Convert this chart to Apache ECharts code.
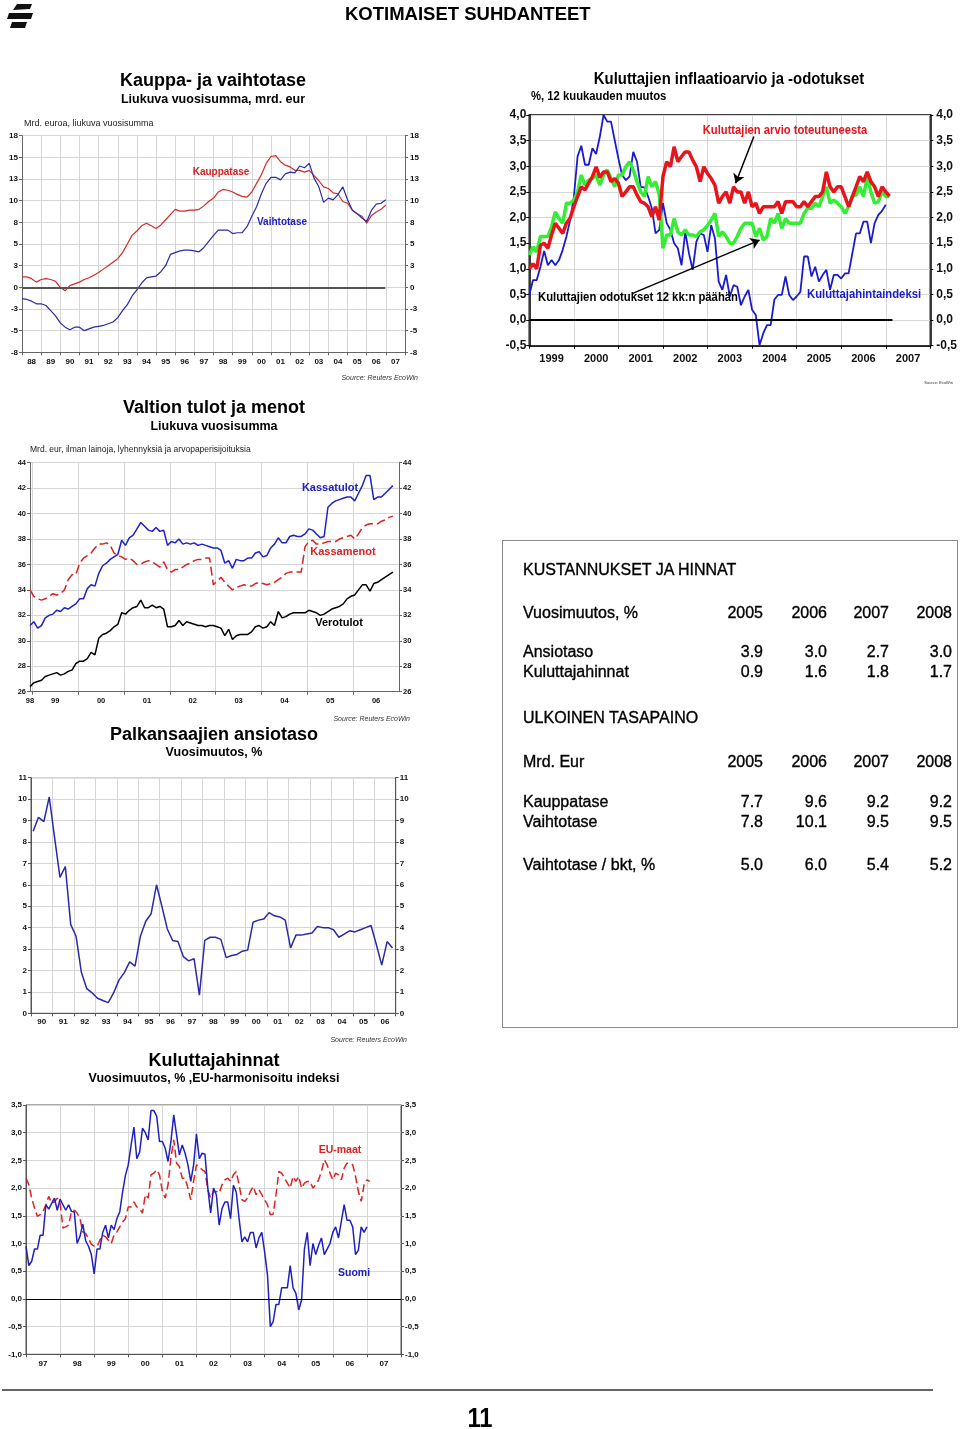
<!DOCTYPE html>
<html><head><meta charset="utf-8">
<script src="https://cdn.jsdelivr.net/npm/echarts@6/dist/echarts.min.js"></script>
<style>
html,body{margin:0;padding:0;background:#fff;}
#page{position:relative;width:960px;height:1429px;overflow:hidden;font-family:Arial,"Liberation Sans",sans-serif;color:#000;}
#chart{position:absolute;left:0;top:0;width:960px;height:1429px;}
.t{position:absolute;white-space:nowrap;line-height:1;}
.tb{-webkit-text-stroke:0.35px #000;}
</style></head><body>
<div id="page">
<div id="chart"></div>
<svg style="position:absolute;left:3px;top:2px" width="32" height="28">
<polygon points="14,2 29,2 27,7 10,8" fill="#111"/>
<polygon points="6,11 30,11 28,17 4,17" fill="#111"/>
<polygon points="9,20 24,20 22,26 7,26" fill="#111"/>
</svg>
<div class="t" style="left:345px;top:5px;font-size:18.5px;font-weight:bold;">KOTIMAISET SUHDANTEET</div>
<div id="tbl" style="position:absolute;left:502px;top:540px;width:454px;height:486px;border:1px solid #8a8a8a;"></div>
<div style="position:absolute;left:2px;top:1389px;width:931px;height:2px;background:#666;"></div>
<div class="t" style="left:480px;top:1404px;font-size:28px;font-weight:bold;transform:translateX(-50%) scaleX(0.85);">11</div>
</div>
<script>
// ---------- DATA ----------
// Kauppa- ja vaihtotase, quarterly from 1988.0, mrd. eur
const tradeStart = 1988, tradeStep = 0.25;
const kauppatase = [1.2,1.2,1.0,0.6, 0.9,1.0,0.9,0.7, 0.0,-0.4,0.2,0.4, 0.6,0.9,1.1,1.4, 1.7,2.1,2.5,2.9,
  3.3,4.0,5.0,6.0, 6.5,7.1,7.4,7.1, 6.8,7.2,7.8,8.4, 9.0,8.8,8.8,8.9, 8.9,9.0,9.4,9.9,
  10.3,11.0,11.3,11.2, 11.0,10.7,10.5,10.4, 11.0,12.0,13.0,14.3, 15.1,15.2,14.5,14.1, 13.9,13.5,13.5,13.3,
  13.5,12.9,12.3,11.6, 11.4,10.9,10.8,9.9, 9.7,8.9,8.5,8.2, 7.4,8.3,8.7,9.0, 9.5];
const vaihtotase = [-1.3,-1.4,-1.6,-1.9, -1.9,-2.1,-2.7,-3.3, -4.1,-4.6,-4.9,-4.6, -4.6,-5.0,-4.8,-4.6, -4.5,-4.4,-4.2,-4.0,
  -3.5,-2.7,-2.0,-1.0, -0.3,0.5,1.1,1.2, 1.3,1.8,2.5,3.8, 4.0,4.2,4.3,4.3, 4.2,4.1,4.6,5.3,
  6.0,6.6,6.6,6.6, 6.2,6.3,6.3,7.0, 8.2,9.3,10.8,12.0, 12.7,12.7,12.4,13.1, 13.3,13.2,14.0,13.8,
  14.3,12.6,11.6,9.8, 10.3,10.1,10.7,11.6, 10.1,8.9,8.5,8.0, 7.6,8.9,9.6,9.7, 10.1];

// Kuluttajien inflaatioarvio ja -odotukset, monthly from 1999.0, %
const inflStart = 1999;
const arvio = [1.0,1.1,1.0,1.46,1.5,1.4,1.66,1.89,1.79,1.69,1.89,1.99,
  2.21,2.41,2.6,2.54,2.67,2.8,2.99,2.78,2.89,2.89,2.7,2.76,
  2.67,2.41,2.5,2.6,2.6,2.44,2.31,2.28,2.21,2.02,2.21,1.95,
  2.8,3.09,2.99,3.38,3.09,3.19,3.28,3.28,3.12,2.99,2.7,2.99,
  2.86,2.76,2.63,2.28,2.41,2.5,2.28,2.6,2.5,2.5,2.28,2.5,
  2.21,2.28,2.08,2.21,2.21,2.21,2.21,2.31,2.08,2.31,2.31,2.31,
  2.21,2.21,2.31,2.21,2.31,2.41,2.41,2.5,2.89,2.6,2.5,2.6,
  2.6,2.41,2.21,2.41,2.6,2.8,2.7,2.89,2.7,2.6,2.41,2.6,
  2.5,2.42];
const odotukset = [1.27,1.43,1.33,1.63,1.63,1.63,1.82,2.11,1.98,1.89,2.28,2.28,
  2.34,2.5,2.83,2.63,2.73,2.76,2.83,2.63,2.83,2.93,2.76,2.6,
  2.83,2.83,2.99,3.09,2.93,2.7,2.5,2.41,2.8,2.6,2.7,2.45,
  1.4,1.66,1.66,1.98,1.72,1.66,1.76,1.66,1.66,1.63,1.72,1.76,
  1.85,1.95,2.08,1.63,1.72,1.63,1.5,1.5,1.63,1.79,1.89,1.89,
  1.89,1.63,1.79,1.56,1.63,1.98,1.89,2.08,1.79,1.98,1.89,1.89,
  1.89,1.89,2.08,2.18,2.18,2.28,2.21,2.41,2.6,2.28,2.34,2.28,
  2.21,2.08,2.21,2.41,2.44,2.6,2.41,2.8,2.5,2.28,2.31,2.5,
  2.41,2.41];
const kuluttajahintaindeksi = [0.49,0.78,0.78,1.04,1.35,1.07,1.17,1.07,1.17,1.37,1.63,1.95,
  2.4,3.19,3.4,3.03,3.03,3.35,3.24,3.58,4.0,3.87,3.87,3.51,
  3.15,2.83,2.73,2.8,3.28,3.09,2.6,2.59,2.41,2.18,1.69,1.76,
  2.28,1.89,1.76,1.5,1.4,1.07,1.72,1.3,0.98,1.53,1.69,1.66,
  1.33,1.85,1.59,0.75,0.59,0.88,0.46,0.68,0.65,0.29,0.46,0.59,
  0.2,0.1,-0.49,-0.26,-0.1,-0.1,0.4,0.49,0.49,0.85,0.49,0.39,
  0.46,0.55,1.24,1.24,0.85,1.04,0.75,0.88,0.98,0.59,0.88,0.88,
  0.81,0.91,0.91,1.3,1.69,1.69,1.92,1.92,1.5,1.89,2.05,2.13,
  2.25];

// Valtion tulot ja menot, monthly from Dec 1998, mrd. eur
const budgetStart = 1998.95;
const kassatulot = [31.2,31.5,31.0,31.2,31.8,32.0,32.1,32.4,32.3,32.6,32.5,32.7,
  32.9,33.3,33.3,34.1,34.4,34.3,35.3,35.9,36.1,36.4,36.6,36.8,
  37.9,37.5,38.1,38.3,38.8,39.3,39.0,38.7,38.6,38.9,38.6,38.7,
  37.5,37.8,37.7,38.0,37.6,37.7,37.6,37.7,37.5,37.6,37.5,37.4,
  37.3,37.3,37.1,36.1,36.3,35.7,36.4,36.3,36.3,36.5,36.5,36.9,
  37.0,36.6,36.7,37.3,37.6,38.1,37.7,37.7,38.2,38.3,38.2,38.2,
  38.4,38.8,38.7,38.4,38.1,38.2,40.5,40.8,41.0,41.1,41.2,41.3,
  41.3,41.0,41.6,42.2,43.0,43.0,41.1,41.3,41.3,41.6,41.9,42.2];
const kassamenot = [34.0,33.5,33.3,33.2,33.3,33.5,33.7,33.6,33.7,34.0,34.8,35.2,
  35.2,36.1,36.5,36.7,36.9,37.3,37.6,37.6,37.7,37.5,36.9,36.7,
  36.6,36.4,36.5,36.3,36.0,36.0,36.2,36.3,36.2,36.0,35.8,36.2,
  35.6,35.4,35.6,35.6,35.8,36.0,36.1,36.3,36.4,36.4,36.5,36.5,
  34.4,34.7,35.0,34.6,34.3,34.0,34.2,34.3,34.4,34.3,34.3,34.5,
  34.6,34.5,34.4,34.5,34.6,34.8,35.0,35.3,35.4,35.4,35.4,35.4,
  37.4,37.8,37.9,37.6,37.6,37.7,37.8,37.8,37.8,38.0,38.1,38.2,
  38.3,38.0,38.4,38.9,39.1,39.2,39.2,39.2,39.4,39.5,39.7,39.8];
const verotulot = [26.4,26.7,26.8,26.9,27.2,27.3,27.4,27.5,27.3,27.4,27.6,27.7,
  28.2,28.4,28.4,28.6,29.1,28.9,30.2,30.5,30.6,30.8,31.1,31.3,
  32.2,32.1,32.4,32.6,32.7,33.2,32.6,32.6,32.8,32.6,32.7,32.5,
  31.1,31.1,31.2,31.6,31.2,31.5,31.4,31.3,31.2,31.2,31.1,31.2,
  31.2,31.1,31.0,30.4,30.9,30.1,30.4,30.5,30.5,30.5,30.7,31.1,
  31.2,31.0,31.1,31.5,31.2,32.3,31.8,31.9,32.1,32.2,32.2,32.2,
  32.2,32.4,32.3,32.2,32.0,32.1,32.3,32.5,32.6,32.7,32.9,33.3,
  33.5,33.6,34.0,34.4,34.4,33.9,34.5,34.6,34.8,35.0,35.2,35.4];

// Palkansaajien ansiotaso, quarterly, vuosimuutos %
const wageStart = 1990.1, wageStep = 0.25;
const ansiotaso = [8.5,9.15,8.95,10.1, 8.2,6.35,6.85,4.15, 3.6,1.9,1.15,0.95, 0.7,0.6,0.5,0.95,
  1.55,1.9,2.4,2.2, 3.6,4.3,4.65,6.0, 5.0,3.95,3.4,3.35, 2.65,2.45,2.55,0.85,
  3.4,3.55,3.55,3.45, 2.6,2.7,2.75,2.9, 2.95,4.25,4.35,4.4, 4.7,4.55,4.5,4.35,
  3.05,3.65,3.65,3.7, 3.75,4.05,4.0,4.0, 3.9,3.55,3.7,3.85, 3.8,3.9,4.0,4.1, 3.2,2.25,3.35,3.05];

// Kuluttajahinnat, monthly from 1997.0, vuosimuutos %
const cpiStart = 1997;
const suomi = [0.95,0.6,0.68,0.9,0.9,1.15,1.15,1.7,1.62,1.72,1.82,1.6,
  1.8,1.7,1.6,1.7,1.58,1.57,1.0,1.13,1.35,1.05,0.95,0.8,
  0.45,0.9,0.9,1.2,1.33,1.1,1.33,1.25,1.45,1.57,1.93,2.23,
  2.42,2.78,3.1,2.53,2.65,3.08,3.0,2.87,3.4,3.4,3.3,2.84,
  2.84,2.72,2.48,2.84,3.32,2.96,2.6,2.78,2.63,2.42,2.12,2.42,
  2.98,2.53,2.63,2.61,2.0,1.55,2.0,1.88,1.33,1.63,1.75,1.75,
  1.45,2.05,1.93,1.45,1.03,1.12,1.03,1.2,1.2,0.92,1.1,1.2,
  0.85,0.43,-0.5,-0.41,-0.1,-0.1,0.2,0.2,0.2,0.6,0.2,0.1,
  -0.2,-0.02,0.9,1.2,0.6,1.0,0.8,0.97,1.1,0.8,0.9,1.0,
  1.2,1.3,1.1,1.4,1.7,1.42,1.42,1.3,0.8,0.88,1.3,1.2,
  1.3];
const euMaat = [2.18,2.06,1.82,1.64,1.49,1.52,1.58,1.7,1.85,1.73,1.75,1.82,
  1.73,1.28,1.3,1.33,1.58,1.6,1.55,1.45,1.21,1.18,1.09,0.99,
  0.95,0.94,1.06,1.15,1.12,1.06,1.0,1.15,1.21,1.3,1.39,1.45,
  1.66,1.66,1.75,1.66,1.63,1.55,1.88,1.82,2.24,2.27,2.33,2.24,
  1.94,1.82,2.06,2.54,2.87,2.45,2.39,2.18,2.18,2.0,1.79,2.12,
  2.42,2.39,2.33,2.3,1.97,1.82,1.94,1.94,1.91,2.06,2.15,2.18,
  2.12,2.24,2.3,2.06,1.79,1.76,1.82,1.94,2.03,1.88,1.97,1.88,
  1.79,1.7,1.52,1.53,1.88,2.3,2.27,2.18,2.09,2.0,2.21,2.12,
  2.21,2.0,2.09,2.12,2.12,2.0,2.06,2.15,2.3,2.51,2.42,2.27,
  2.15,2.27,2.24,2.15,2.36,2.45,2.45,2.42,2.21,1.94,1.76,2.06,
  2.15,2.12];

// Table
const tableYears = ['2005','2006','2007','2008'];
const costRows = [['Ansiotaso',[3.9,3.0,2.7,3.0]],['Kuluttajahinnat',[0.9,1.6,1.8,1.7]]];
const balanceRows = [['Kauppatase',[7.7,9.6,9.2,9.2]],['Vaihtotase',[7.8,10.1,9.5,9.5]]];
const gdpRow = ['Vaihtotase / bkt, %',[5.0,6.0,5.4,5.2]];

// ---------- HELPERS ----------
const FONT = 'Arial, "Liberation Sans", sans-serif';
const GRIDC = '#d6d6d6';
function seq(start, step, arr){ return arr.map((v,i)=>[+(start+i*step).toFixed(5), v]); }
function range(a,b,s){ s=s||1; const r=[]; for(let v=a; v<=b+1e-9; v+=s) r.push(+v.toFixed(4)); return r; }
const yy = v => String(Math.floor(v+1e-6)%100).padStart(2,'0');
const comma = v => v.toFixed(1).replace('.',',');
const roundAway = v => String(Math.sign(v)*Math.round(Math.abs(v)));

function yAxes(gi,min,max,interval,fmt,st){
  const lab = {formatter:fmt,fontSize:st.fs,fontWeight:'bold',color:'#111',fontFamily:FONT,margin:st.lm};
  const base = {type:'value',gridIndex:gi,min,max,interval,
    axisLine:{show:true,lineStyle:{color:st.axis,width:st.aw}},
    axisTick:{show:true,length:3,lineStyle:{color:st.axis}}};
  return [
    Object.assign({},base,{position:'left',axisLabel:lab,splitLine:{show:true,lineStyle:{color:GRIDC,width:1}}}),
    Object.assign({},base,{position:'right',axisLabel:Object.assign({},lab,{margin:st.rm}),splitLine:{show:false}})
  ];
}
function xAxis(gi,min,max,ticks,labels,fmt,st){
  return {type:'value',gridIndex:gi,min,max,interval:1,
    axisLine:{show:true,onZero:false,lineStyle:{color:st.axis,width:st.aw}},
    axisTick:{show:true,length:3,customValues:ticks,lineStyle:{color:st.axis}},
    axisLabel:{customValues:labels,formatter:fmt,fontSize:st.xfs||st.fs,fontWeight:'bold',color:'#111',fontFamily:FONT,margin:st.xm},
    splitLine:{show:true,lineStyle:{color:GRIDC,width:1}}};
}
function line(name,xi,yi,data,color,width,type){
  return {name,type:'line',xAxisIndex:xi,yAxisIndex:yi,data,showSymbol:false,symbol:'none',
    lineStyle:{color,width,type:type||'solid'},itemStyle:{color},emphasis:{disabled:true},silent:true,z:3};
}
function segLine(pairs,color,width,arrow){
  return {silent:true,animation:false,symbol:arrow?['none','arrow']:['none','none'],symbolSize:arrow?9:0,
    label:{show:false},emphasis:{disabled:true},lineStyle:{color,width,type:'solid'},
    data:pairs.map(p=>[{coord:p[0]},{coord:p[1]}])};
}
function txt(x,y,text,o){
  o=o||{};
  return {type:'text',x,y,scaleX:o.sx||1,z:10,silent:true,
    style:{text,fill:o.c||'#000',font:(o.f||'bold 12px')+' '+FONT,
      align:o.a||'center',textAlign:o.a||'center',verticalAlign:'middle',textVerticalAlign:'middle'}};
}

// ---------- OPTION ----------
const st1 = {fs:8,axis:'#666',aw:1,lm:4,rm:5,xm:5};
const st2 = {fs:12,xfs:11,axis:'#000',aw:1.5,lm:3,rm:6,xm:8};
const st3 = {fs:7.5,axis:'#666',aw:1,lm:4,rm:4,xm:5};
const st4 = {fs:8,axis:'#555',aw:1,lm:4,rm:4,xm:4};
const st5 = {fs:8,axis:'#555',aw:1,lm:4,rm:4,xm:5};

const yA = [].concat(
  yAxes(0,-7.5,17.5,2.5,roundAway,st1),
  yAxes(1,-0.5,4.0,0.5,comma,st2),
  yAxes(2,26,44,2,v=>String(v),st3),
  yAxes(3,0,11,1,v=>String(v),st4),
  yAxes(4,-1.0,3.5,0.5,comma,st5)
);
const xA = [
  xAxis(0,1988,2008,range(1988,2008),range(1988.5,2007.5),yy,st1),
  xAxis(1,1999,2008,range(1999,2008),range(1999.5,2007.5),v=>String(Math.floor(v)),st2),
  xAxis(2,budgetStart,2007,range(1999,2006),[budgetStart].concat(range(1999.5,2006.5)),yy,st3),
  xAxis(3,1990,2007,range(1990,2007),range(1990.5,2006.5),yy,st4),
  xAxis(4,1997,2008,range(1997,2008),range(1997.5,2007.5),yy,st5)
];

const sKauppa = line('Kauppatase',0,0,seq(tradeStart,tradeStep,kauppatase),'#d42a2a',1.2);
sKauppa.markLine = segLine([[[1988,0],[2006.97,0]]],'#555',2,false);
const sVaihto = line('Vaihtotase',0,0,seq(tradeStart,tradeStep,vaihtotase),'#2a2aaa',1.2);

const sKhi = line('Kuluttajahintaindeksi',1,2,seq(inflStart,1/12,kuluttajahintaindeksi),'#1a1ad0',1.8);
sKhi.markLine = segLine([[[1999,0],[2007.15,0]]],'#000',2,false);
const sOdo = line('Kuluttajien odotukset',1,2,seq(inflStart,1/12,odotukset),'#33ee33',3.5);
const sArv = line('Kuluttajien arvio',1,2,seq(inflStart,1/12,arvio),'#e8141c',3.5);
sArv.markLine = segLine([[[2004.04,3.58],[2003.63,2.67]],[[2001.32,0.52],[2004.17,1.56]]],'#000',1.5,true);
sArv.markLine.z = 6;

const sTulot = line('Kassatulot',2,4,seq(budgetStart,1/12,kassatulot),'#2020c8',1.5);
const sMenot = line('Kassamenot',2,4,seq(budgetStart,1/12,kassamenot),'#dd2020',1.5,[9,4]);
const sVero = line('Verotulot',2,4,seq(budgetStart,1/12,verotulot),'#000',1.5);

const sAnsio = line('Ansiotaso',3,6,seq(wageStart,wageStep,ansiotaso),'#2a2aa8',1.5);

const sEu = line('EU-maat',4,8,seq(cpiStart,1/12,euMaat),'#dd2222',1.5,[8,4]);
const sSuomi = line('Suomi',4,8,seq(cpiStart,1/12,suomi),'#2020c0',1.5);
sSuomi.markLine = segLine([[[1997,0],[2008,0]]],'#000',1,false);

const option = {
  animation:false,
  grid:[
    {left:22,top:135.7,width:383,height:216.6},
    {left:529.3,top:115,width:401.7,height:230.7,show:true,borderColor:'#000',borderWidth:1.5,backgroundColor:'transparent'},
    {left:30,top:462.7,width:369,height:229},
    {left:31,top:777.7,width:364.7,height:235.6,show:true,borderColor:'#555',borderWidth:1,backgroundColor:'transparent'},
    {left:26,top:1105,width:375,height:249.3,show:true,borderColor:'#555',borderWidth:1,backgroundColor:'transparent'}
  ],
  xAxis:xA, yAxis:yA,
  series:[sKauppa,sVaihto,sKhi,sOdo,sArv,sTulot,sMenot,sVero,sAnsio,sEu,sSuomi],
  graphic:{elements:[
    txt(213,81,'Kauppa- ja vaihtotase',{f:'bold 18px'}),
    txt(213,100,'Liukuva vuosisumma, mrd. eur',{f:'bold 12.5px'}),
    txt(24,124,'Mrd. euroa, liukuva vuosisumma',{f:'9px',a:'left',c:'#222'}),
    txt(221,172,'Kauppatase',{f:'bold 10px',c:'#d42020'}),
    txt(282,222,'Vaihtotase',{f:'bold 10px',c:'#2020c0'}),
    txt(418,378,'Source: Reuters EcoWin',{f:'italic 7px',a:'right',c:'#333'}),

    txt(729,79,'Kuluttajien inflaatioarvio ja -odotukset',{f:'bold 17px',sx:0.875}),
    txt(531,97,'%, 12 kuukauden muutos',{f:'bold 12px',a:'left',sx:0.94}),
    txt(785,131,'Kuluttajien arvio toteutuneesta',{f:'bold 12px',c:'#e8141c',sx:0.935}),
    txt(538,298,'Kuluttajien odotukset 12 kk:n päähän',{f:'bold 12px',a:'left',sx:0.94}),
    txt(807,295,'Kuluttajahintaindeksi',{f:'bold 12px',a:'left',c:'#1a1ad0',sx:0.94}),
    txt(953,383,'Source: EcoWin',{f:'4px',a:'right',c:'#333'}),

    txt(214,408,'Valtion tulot ja menot',{f:'bold 18px'}),
    txt(214,427,'Liukuva vuosisumma',{f:'bold 12.5px'}),
    txt(30,450,'Mrd. eur, ilman lainoja, lyhennyksiä ja arvopaperisijoituksia',{f:'8.5px',a:'left',c:'#222'}),
    txt(330,488,'Kassatulot',{f:'bold 11px',c:'#2020c8'}),
    txt(343,552,'Kassamenot',{f:'bold 11px',c:'#dd2020'}),
    txt(339,623,'Verotulot',{f:'bold 11px'}),
    txt(410,719,'Source: Reuters EcoWin',{f:'italic 7px',a:'right',c:'#333'}),

    txt(214,735,'Palkansaajien ansiotaso',{f:'bold 18px'}),
    txt(214,753,'Vuosimuutos, %',{f:'bold 12.5px'}),
    txt(407,1040,'Source: Reuters EcoWin',{f:'italic 7px',a:'right',c:'#333'}),

    txt(214,1061,'Kuluttajahinnat',{f:'bold 18px'}),
    txt(214,1079,'Vuosimuutos, % ,EU-harmonisoitu indeksi',{f:'bold 12.5px'}),
    txt(340,1150,'EU-maat',{f:'bold 10.5px',c:'#dd2222'}),
    txt(354,1273,'Suomi',{f:'bold 10.5px',c:'#2020c0'})
  ]}
};
const chart = echarts.init(document.getElementById('chart'),null,{renderer:'canvas'});
chart.setOption(option);

// ---------- TABLE (HTML text) ----------
const page = document.getElementById('page');
const colRight = [763,827,889,952];
function put(text,x,y,align){
  const d=document.createElement('div'); d.className='t tb'; d.textContent=text;
  d.style.fontSize='16px'; d.style.top=(y-8)+'px';
  if(align==='right'){ d.style.right=(960-x)+'px'; } else { d.style.left=x+'px'; }
  page.appendChild(d);
}
function row(label,vals,y,fmt){
  put(label,523,y,'left');
  vals.forEach((v,i)=>put(fmt?fmt(v):v,colRight[i],y,'right'));
}
put('KUSTANNUKSET JA HINNAT',523,570,'left');
row('Vuosimuutos, %',tableYears,613);
costRows.forEach((r,i)=>row(r[0],r[1],652+i*20,v=>v.toFixed(1)));
put('ULKOINEN TASAPAINO',523,718,'left');
row('Mrd. Eur',tableYears,762);
balanceRows.forEach((r,i)=>row(r[0],r[1],802+i*20,v=>v.toFixed(1)));
row(gdpRow[0],gdpRow[1],865,v=>v.toFixed(1));
</script>
</body></html>
